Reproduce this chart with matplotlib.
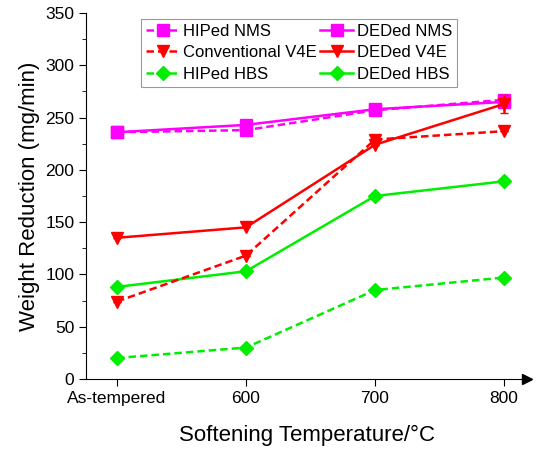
import numpy as np
import matplotlib.pyplot as plt

plt.rcParams['font.family'] = ['Liberation Sans', 'DejaVu Sans']

cats = ["As-tempered", "600", "700", "800"]
hiped_nms = [236, 238, 257, 267]
conv_v4e = [74, 118, 229, 237]
hiped_hbs = [20, 30, 85, 97]
deded_nms = [236, 243, 258, 265]
deded_v4e = [135, 145, 224, 263]
deded_hbs = [88, 103, 175, 189]
v4e_err = [0, 0, 0, 9]
conv_err = [0, 0, 4, 0]

x = np.arange(len(cats))

fig = plt.figure(figsize=(5.38, 4.5), dpi=100)
ax = fig.add_axes([0.16, 0.158, 0.82, 0.813])

mag = '#ff00ff'
red = '#ff0000'
grn = '#00ee00'
ms = 8
dash = (3, 1.6)

h1, = ax.plot(x, hiped_nms, '--', dashes=dash, color=mag, marker='s', ms=ms, lw=1.8, label='HIPed NMS')
h2 = ax.errorbar(x, conv_v4e, yerr=conv_err, fmt='--', dashes=dash, color=red, marker='v', ms=ms+1,
                 lw=1.8, capsize=3, label='Conventional V4E')
h3, = ax.plot(x, hiped_hbs, '--', dashes=dash, color=grn, marker='D', ms=ms-1, lw=1.8, label='HIPed HBS')
h4, = ax.plot(x, deded_nms, '-', color=mag, marker='s', ms=ms, lw=1.8, label='DEDed NMS')
h5 = ax.errorbar(x, deded_v4e, yerr=v4e_err, fmt='-', color=red, marker='v', ms=ms+1, lw=1.8,
                 capsize=3, label='DEDed V4E')
h6, = ax.plot(x, deded_hbs, '-', color=grn, marker='D', ms=ms-1, lw=1.8, label='DEDed HBS')

ax.set_xlim(-0.24, 3.18)
ax.set_ylim(0, 350)
ax.set_xticks(x)
ax.set_xticklabels(cats, fontsize=12.5)
ax.set_yticks(np.arange(0, 351, 50))
ax.set_yticks(np.arange(25, 350, 50), minor=True)
ax.tick_params(axis='y', labelsize=12.5, direction='out', length=5)
ax.tick_params(axis='y', which='minor', length=3)
ax.tick_params(axis='x', labelsize=12.5, direction='out', length=5)
ax.spines['top'].set_visible(False)
ax.spines['right'].set_visible(False)
ax.plot(1, 0, '>', color='black', ms=7, transform=ax.transAxes, clip_on=False)

ax.set_xlabel('Softening Temperature/\u00b0C', fontsize=16, labelpad=14)
ax.set_ylabel('Weight Reduction (mg/min)', fontsize=16)

handles = [h1, h2[0], h3, h4, h5[0], h6]
labels = ['HIPed NMS', 'Conventional V4E', 'HIPed HBS', 'DEDed NMS', 'DEDed V4E', 'DEDed HBS']
leg = ax.legend(handles, labels, ncol=2, loc='upper left', bbox_to_anchor=(0.125, 0.985), fontsize=12,
                frameon=True, fancybox=False, edgecolor='gray', handlelength=2.0,
                columnspacing=0.2, handletextpad=0.2, borderpad=0.3, labelspacing=0.4,
                borderaxespad=0)
leg.get_frame().set_linewidth(0.8)

plt.savefig('out.png', dpi=100)
